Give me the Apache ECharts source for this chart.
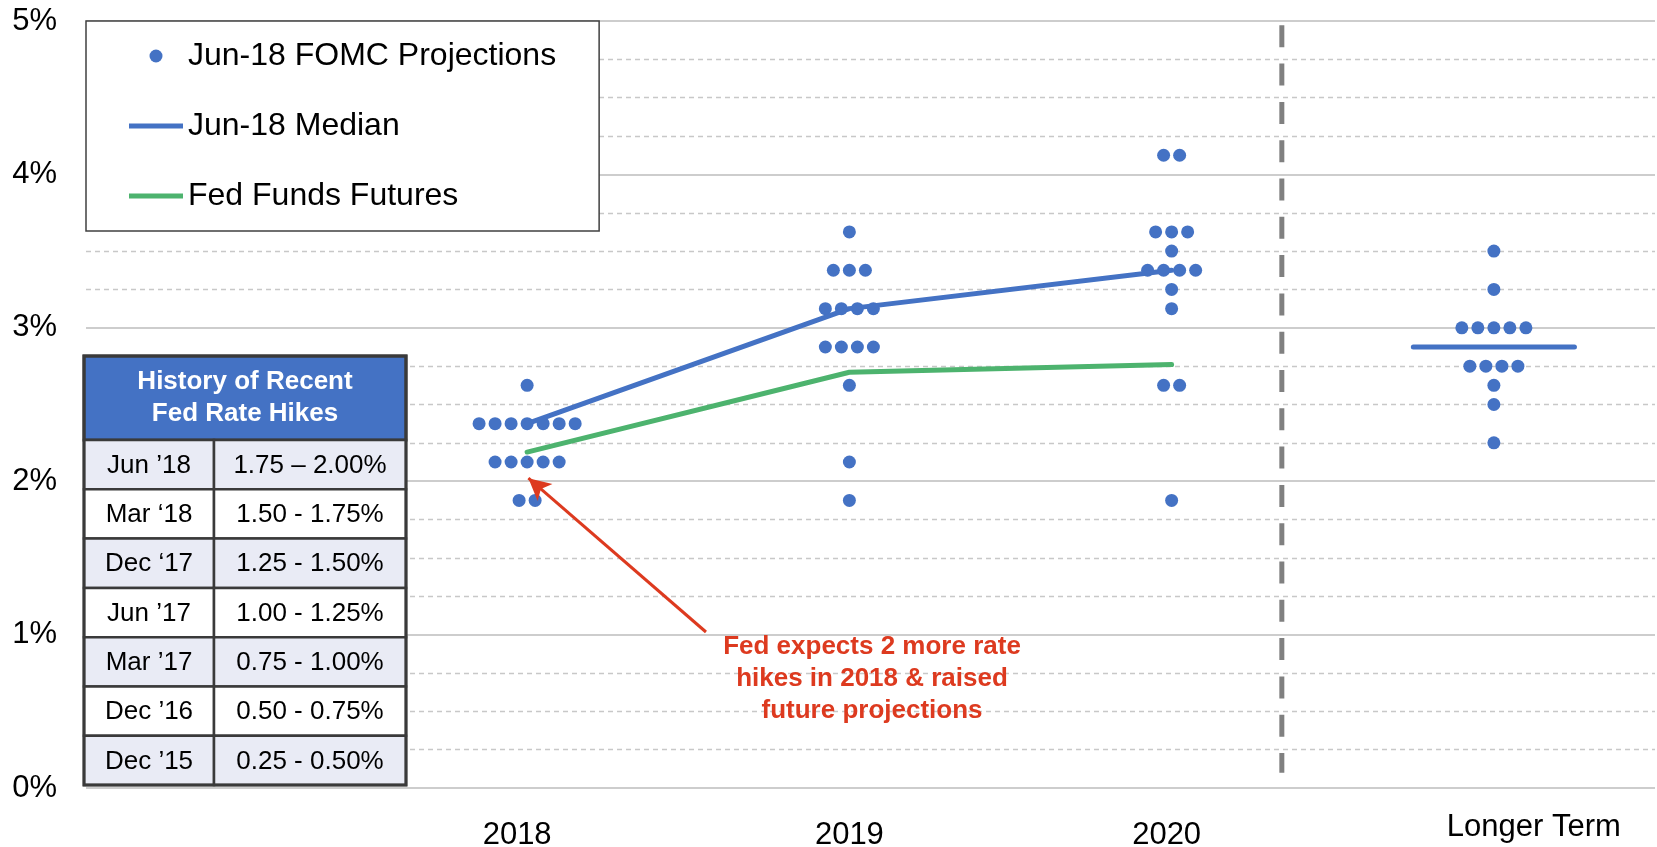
<!DOCTYPE html>
<html>
<head>
<meta charset="utf-8">
<script src="https://cdn.jsdelivr.net/npm/echarts@6/dist/echarts.min.js"></script>
<style>
html,body{margin:0;padding:0;background:#fff;}
#chart{width:1657px;height:847px;}
</style>
</head>
<body>
<div id="chart"></div>
<script>
// ---------------- data ----------------
const categories = ['2018', '2019', '2020', 'Longer Term'];
const yTickValues = [0, 1, 2, 3, 4, 5];

const dots2018 = [2.625,
  2.375, 2.375, 2.375, 2.375, 2.375, 2.375, 2.375,
  2.125, 2.125, 2.125, 2.125, 2.125,
  1.875, 1.875];
const dots2019 = [3.625,
  3.375, 3.375, 3.375,
  3.125, 3.125, 3.125, 3.125,
  2.875, 2.875, 2.875, 2.875,
  2.625, 2.125, 1.875];
const dots2020 = [4.125, 4.125,
  3.625, 3.625, 3.625,
  3.5,
  3.375, 3.375, 3.375, 3.375,
  3.25, 3.125,
  2.625, 2.625,
  1.875];
const dotsLonger = [3.5, 3.25,
  3.0, 3.0, 3.0, 3.0, 3.0,
  2.75, 2.75, 2.75, 2.75,
  2.625, 2.5, 2.25];

const medianValues = [2.375, 3.125, 3.375];
const medianLongerTerm = 2.875;
const futuresValues = [2.19, 2.71, 2.76];

const tableTitle = 'History of Recent\nFed Rate Hikes';
const tableDates = ['Jun \u201918', 'Mar \u201818', 'Dec \u201817', 'Jun \u201917', 'Mar \u201917', 'Dec \u201916', 'Dec \u201915'];
const tableRanges = ['1.75 \u2013 2.00%', '1.50 - 1.75%', '1.25 - 1.50%', '1.00 - 1.25%', '0.75 - 1.00%', '0.50 - 0.75%', '0.25 - 0.50%'];

const annotationText = 'Fed expects 2 more rate\nhikes in 2018 & raised\nfuture projections';

// ---------------- layout / style constants ----------------
const FONT = '"Liberation Sans", Arial, Helvetica, sans-serif';
const BLUE = '#4472C4';
const GREEN = '#4DB36E';
const RED = '#DD3A1F';
const DOT_STEP = 0.0497;          // horizontal spacing of stacked dots (category units)
const MEDIAN_HALF = 0.25;         // half width of longer-term median bar
const DIVIDER_X = 2.342;
const DIVIDER_BOTTOM = 0.1;
const ARROW_TAIL = [0.555, 1.017];
const ARROW_HEAD = [0.004, 2.02];

function dotPoints(values, catIndex) {
  const counts = new Map();
  values.forEach(v => counts.set(v, (counts.get(v) || 0) + 1));
  const pts = [];
  counts.forEach((n, v) => {
    for (let j = 0; j < n; j++) pts.push([catIndex + (j - (n - 1) / 2) * DOT_STEP, v]);
  });
  return pts;
}

const allDots = [].concat(
  dotPoints(dots2018, 0), dotPoints(dots2019, 1),
  dotPoints(dots2020, 2), dotPoints(dotsLonger, 3));

// ---------------- table graphic ----------------
const TX = 84, TY = 356, C1 = 130, C2 = 192, HH = 84, RH = 49.3;
const TZ = 20;
const tableChildren = [];
tableChildren.push({
  type: 'rect', z: TZ, shape: {x: TX, y: TY, width: C1 + C2, height: HH},
  style: {fill: BLUE, stroke: '#3A3A3A', lineWidth: 3}
});
tableChildren.push({
  type: 'text', z: TZ + 1, x: TX + (C1 + C2) / 2, y: TY + HH / 2,
  style: {text: tableTitle, fill: '#fff', fontSize: 26, fontWeight: 'bold', fontFamily: FONT,
          lineHeight: 32, align: 'center', verticalAlign: 'middle', textAlign: 'center', textVerticalAlign: 'middle'}
});
tableDates.forEach((d, i) => {
  const y = TY + HH + i * RH;
  const fill = i % 2 === 0 ? '#E9EBF5' : '#FFFFFF';
  tableChildren.push({type: 'rect', z: TZ, shape: {x: TX, y: y, width: C1, height: RH},
    style: {fill: fill, stroke: '#3A3A3A', lineWidth: 2.5}});
  tableChildren.push({type: 'rect', z: TZ, shape: {x: TX + C1, y: y, width: C2, height: RH},
    style: {fill: fill, stroke: '#3A3A3A', lineWidth: 2.5}});
  tableChildren.push({type: 'text', z: TZ + 1, x: TX + C1 / 2, y: y + RH / 2 + 1,
    style: {text: d, fill: '#000', fontSize: 26, fontFamily: FONT,
      align: 'center', verticalAlign: 'middle', textAlign: 'center', textVerticalAlign: 'middle'}});
  tableChildren.push({type: 'text', z: TZ + 1, x: TX + C1 + C2 / 2, y: y + RH / 2 + 1,
    style: {text: tableRanges[i], fill: '#000', fontSize: 26, fontFamily: FONT,
      align: 'center', verticalAlign: 'middle', textAlign: 'center', textVerticalAlign: 'middle'}});
});
// outer border
tableChildren.push({
  type: 'rect', z: TZ + 2, shape: {x: TX, y: TY, width: C1 + C2, height: HH + RH * tableDates.length},
  style: {fill: 'none', stroke: '#3A3A3A', lineWidth: 3}
});

// ---------------- chart ----------------
const chart = echarts.init(document.getElementById('chart'), null, {renderer: 'canvas'});
const LINE_ICON = 'path://M0,0H54V5H0Z';

const option = {
  animation: false,
  backgroundColor: '#fff',
  textStyle: {fontFamily: FONT},
  grid: [
    {left: 86, right: 2, top: 21, bottom: 59, show: false, containLabel: false, outerBoundsMode: 'none'},
    {left: 366, right: 2, top: 21, bottom: 59, show: false, containLabel: false, outerBoundsMode: 'none'}
  ],
  legend: {
    orient: 'vertical', left: 86, top: 21,
    padding: [19, 43, 19, 43],
    itemWidth: 54, itemHeight: 13, itemGap: 38,
    backgroundColor: '#fff', borderColor: '#404040', borderWidth: 1.5,
    selectedMode: false, z: 6,
    textStyle: {fontSize: 32, color: '#000', fontFamily: FONT},
    data: [
      {name: 'Jun-18 FOMC Projections', icon: 'circle'},
      {name: 'Jun-18 Median', icon: LINE_ICON},
      {name: 'Fed Funds Futures', icon: LINE_ICON}
    ]
  },
  xAxis: [
    {gridIndex: 0, type: 'value', min: 0, max: 1, show: false},
    {gridIndex: 1, type: 'value', min: -0.5, max: 3.5, show: false},
    {
      gridIndex: 1, type: 'category', boundaryGap: true, position: 'bottom',
      data: [
        {value: categories[0], textStyle: {padding: [0, 20, 0, 0]}},
        {value: categories[1]},
        {value: categories[2], textStyle: {padding: [0, 10, 0, 0]}},
        {value: categories[3], textStyle: {padding: [0, 0, 0, 80], lineHeight: 46}}
      ],
      axisLine: {show: false}, axisTick: {show: false}, splitLine: {show: false},
      axisLabel: {fontSize: 31, color: '#000', fontFamily: FONT, margin: 16, lineHeight: 62, interval: 0}
    }
  ],
  yAxis: [
    {
      gridIndex: 0, type: 'value', min: yTickValues[0], max: yTickValues[yTickValues.length - 1], interval: 1,
      axisLine: {show: false}, axisTick: {show: false},
      axisLabel: {formatter: '{value}%', fontSize: 31, color: '#000', fontFamily: FONT, margin: 29},
      splitLine: {show: true, lineStyle: {color: '#BDBDBD', width: 1.5, type: 'solid'}},
      minorTick: {show: false, splitNumber: 4},
      minorSplitLine: {show: true, lineStyle: {color: '#C8C8C8', width: 1.3, type: [5, 4]}}
    },
    {gridIndex: 1, type: 'value', min: 0, max: 5, show: false}
  ],
  series: [
    {
      name: 'Jun-18 FOMC Projections', type: 'scatter', xAxisIndex: 1, yAxisIndex: 1,
      symbol: 'circle', symbolSize: 13, itemStyle: {color: BLUE, opacity: 1},
      emphasis: {disabled: true}, silent: true, z: 2,
      data: allDots
    },
    {
      name: 'Jun-18 Median', type: 'line', xAxisIndex: 1, yAxisIndex: 1,
      symbol: 'none', color: BLUE, lineStyle: {color: BLUE, width: 5, cap: 'round'},
      silent: true, z: 3,
      data: medianValues.map((v, i) => [i, v])
    },
    {
      name: 'Jun-18 Median', type: 'line', xAxisIndex: 1, yAxisIndex: 1,
      symbol: 'none', color: BLUE, lineStyle: {color: BLUE, width: 5, cap: 'round'},
      silent: true, z: 3,
      data: [[3 - MEDIAN_HALF, medianLongerTerm], [3 + MEDIAN_HALF, medianLongerTerm]]
    },
    {
      name: 'Fed Funds Futures', type: 'line', xAxisIndex: 1, yAxisIndex: 1,
      symbol: 'none', color: GREEN, lineStyle: {color: GREEN, width: 5, cap: 'round'},
      silent: true, z: 3,
      data: futuresValues.map((v, i) => [i, v])
    },
    {
      name: 'divider', type: 'line', xAxisIndex: 1, yAxisIndex: 1,
      symbol: 'none', silent: true, z: 2,
      lineStyle: {color: '#808080', width: 5, type: [22, 16.3], dashOffset: 34, cap: 'butt'},
      data: [[DIVIDER_X, 5], [DIVIDER_X, DIVIDER_BOTTOM]],
      markLine: {
        silent: true, animation: false,
        symbol: ['none', 'arrow'], symbolSize: [17, 22],
        lineStyle: {color: RED, width: 3, type: 'solid'},
        label: {show: false},
        emphasis: {disabled: true},
        data: [[{coord: ARROW_TAIL}, {coord: ARROW_HEAD}]]
      }
    }
  ],
  graphic: [
    {type: 'group', z: TZ, children: tableChildren},
    {
      type: 'text', z: TZ, x: 872, y: 631,
      style: {text: annotationText, fill: RED, fontSize: 26, fontWeight: 'bold', fontFamily: FONT,
        lineHeight: 32, align: 'center', verticalAlign: 'top', textAlign: 'center', textVerticalAlign: 'top'}
    }
  ]
};
chart.setOption(option);
</script>
</body>
</html>
